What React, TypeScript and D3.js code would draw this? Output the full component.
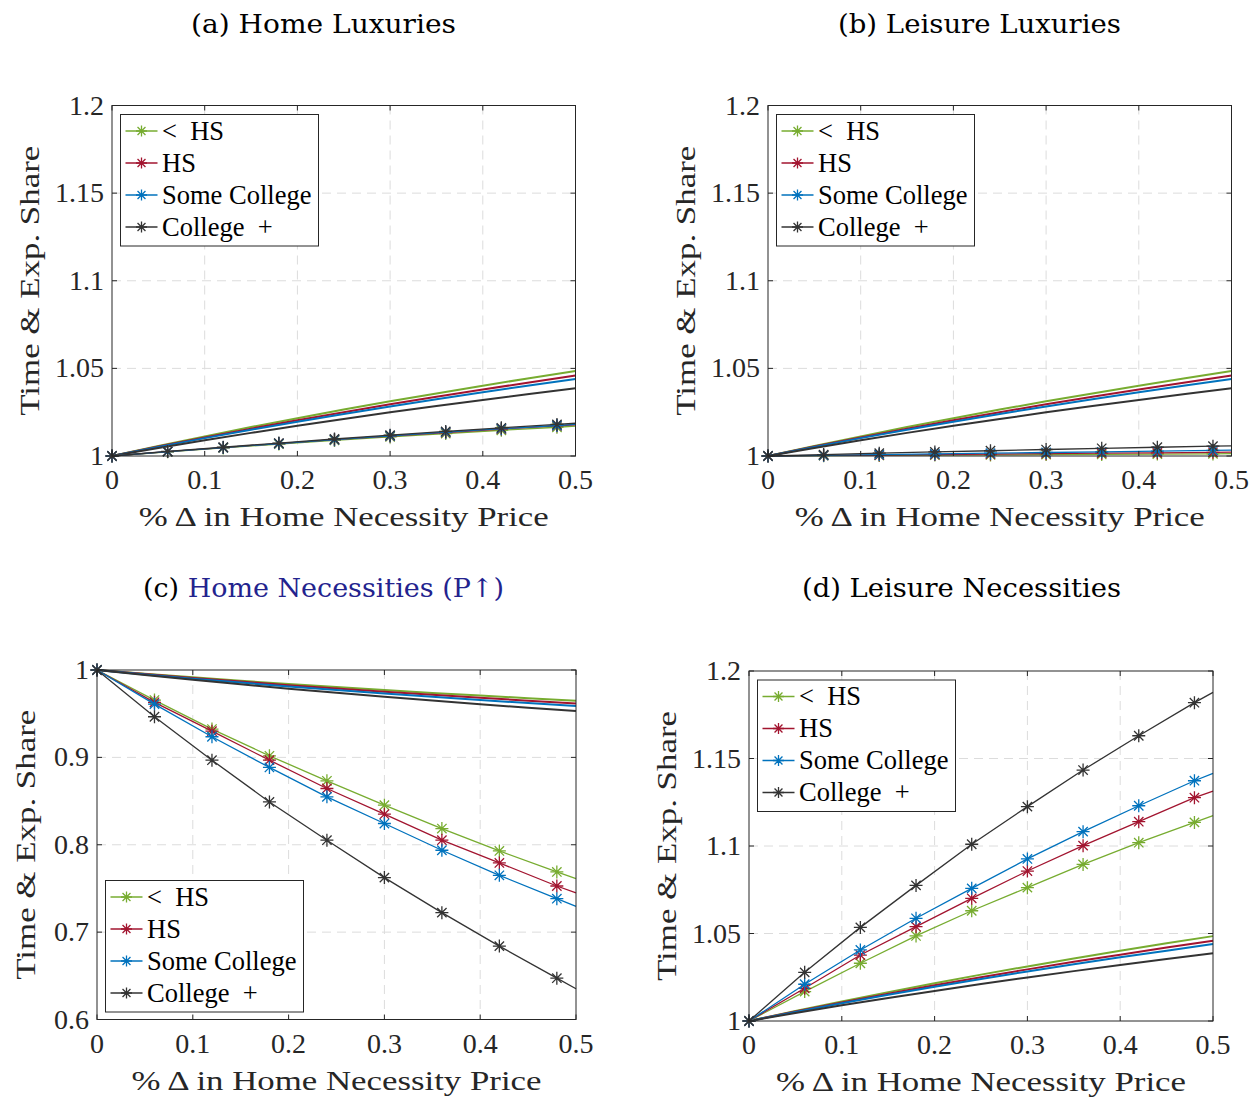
import React from 'react';
import * as d3 from 'd3';

// groups, legend order
const groups = ['< HS', 'HS', 'Some College', 'College +'];
const colors = ['#77AC30', '#A2142F', '#0072BD', '#333333'];

const xTicks = [0, 0.1, 0.2, 0.3, 0.4, 0.5];
const yTicksUp = [1, 1.05, 1.1, 1.15, 1.2];
const yTicksDown = [0.6, 0.7, 0.8, 0.9, 1];

// plain (no marker) lines
const xPlain = [0, 0.05, 0.1, 0.15, 0.2, 0.25, 0.3, 0.35, 0.4, 0.45, 0.5];
const upGreen = [1, 1.0057, 1.0112, 1.0165, 1.0216, 1.0265, 1.0312, 1.0357, 1.0401, 1.0444, 1.0485];
const upRed = [1, 1.0054, 1.0106, 1.0156, 1.0204, 1.025, 1.0295, 1.0338, 1.0379, 1.042, 1.0459];
const upBlue = [1, 1.0052, 1.0102, 1.015, 1.0196, 1.024, 1.0283, 1.0324, 1.0364, 1.0402, 1.044];
const upBlack = [1, 1.0046, 1.009, 1.0132, 1.0172, 1.0211, 1.0249, 1.0285, 1.032, 1.0354, 1.0387];
const downGreen = [1, 0.9957, 0.9916, 0.9877, 0.984, 0.9805, 0.9771, 0.9738, 0.9707, 0.9677, 0.9648];
const downRed = [1, 0.9953, 0.9909, 0.9867, 0.9826, 0.9788, 0.9751, 0.9716, 0.9682, 0.9649, 0.9618];
const downBlue = [1, 0.9949, 0.9901, 0.9856, 0.9812, 0.9771, 0.9731, 0.9693, 0.9657, 0.9621, 0.9587];
const downBlack = [1, 0.9942, 0.9888, 0.9836, 0.9786, 0.9739, 0.9693, 0.965, 0.9609, 0.9568, 0.953];

// marker lines (markers on all but the last point)
const xMarked = [0, 0.06, 0.12, 0.18, 0.24, 0.3, 0.36, 0.42, 0.48, 0.5];
const homeLuxGreen = [1, 1.0024, 1.0046, 1.0068, 1.0089, 1.0109, 1.0128, 1.0147, 1.0164, 1.017];
const homeLuxRed = [1, 1.0025, 1.0048, 1.0071, 1.0093, 1.0114, 1.0134, 1.0154, 1.0172, 1.0178];
const homeLuxBlue = [1, 1.0025, 1.0048, 1.0071, 1.0093, 1.0115, 1.0136, 1.0156, 1.0174, 1.018];
const homeLuxBlack = [1, 1.0026, 1.005, 1.0074, 1.0097, 1.0119, 1.014, 1.0161, 1.018, 1.0187];

const leisLuxGreen = [1, 1.0002, 1.0003, 1.0005, 1.0006, 1.0008, 1.0009, 1.0011, 1.0012, 1.0013];
const leisLuxRed = [1, 1.0003, 1.0005, 1.0008, 1.0011, 1.0013, 1.0016, 1.0018, 1.0021, 1.0022];
const leisLuxBlue = [1, 1.0004, 1.0008, 1.0012, 1.0016, 1.002, 1.0024, 1.0028, 1.0032, 1.0033];
const leisLuxBlack = [1, 1.0008, 1.0016, 1.0023, 1.003, 1.0037, 1.0044, 1.005, 1.0056, 1.0058];

const homeNecGreen = [1, 0.9656, 0.9324, 0.9018, 0.8732, 0.8453, 0.8185, 0.7929, 0.7689, 0.7612];
const homeNecRed = [1, 0.963, 0.93, 0.8968, 0.8644, 0.835, 0.8052, 0.7792, 0.7528, 0.7448];
const homeNecBlue = [1, 0.961, 0.9236, 0.8885, 0.8548, 0.8243, 0.7937, 0.765, 0.7383, 0.7295];
const homeNecBlack = [1, 0.9465, 0.8968, 0.849, 0.8052, 0.7624, 0.7223, 0.684, 0.6473, 0.6352];

const leisNecGreen = [1, 1.0168, 1.033, 1.0486, 1.063, 1.0762, 1.0895, 1.1019, 1.1135, 1.1173];
const leisNecRed = [1, 1.0187, 1.0377, 1.0539, 1.0701, 1.0857, 1.1002, 1.1139, 1.1276, 1.1314];
const leisNecBlue = [1, 1.021, 1.0406, 1.0587, 1.0758, 1.0926, 1.1082, 1.123, 1.1373, 1.1415];
const leisNecBlack = [1, 1.0278, 1.0535, 1.0775, 1.101, 1.1225, 1.1434, 1.163, 1.1819, 1.1878];

const serif = { fontFamily: "'Liberation Serif'" };
const titleFont = { fontFamily: "'DejaVu Serif'" };
const AXIS = '#262626';

const panels = [
  {
    id: 'a', title: '(a) Home Luxuries', blue: '', titleX: 323.5, titleY: 33, titleW: 265,
    x0: 112, x1: 575.5, y0: 105.5, y1: 456, yDomain: [1, 1.2], yTicks: yTicksUp, ylabX: 39,
    plain: [upGreen, upRed, upBlue, upBlack],
    marked: [homeLuxGreen, homeLuxRed, homeLuxBlue, homeLuxBlack], legendBottom: false,
  },
  {
    id: 'b', title: '(b) Leisure Luxuries', blue: '', titleX: 979.5, titleY: 33, titleW: 283,
    x0: 768, x1: 1231.5, y0: 105.5, y1: 456, yDomain: [1, 1.2], yTicks: yTicksUp, ylabX: 695,
    plain: [upGreen, upRed, upBlue, upBlack],
    marked: [leisLuxGreen, leisLuxRed, leisLuxBlue, leisLuxBlack], legendBottom: false,
  },
  {
    id: 'c', title: '(c) ', blue: 'Home Necessities (P\u2191)', titleX: 323.5, titleY: 597, titleW: 361,
    x0: 97, x1: 576, y0: 670, y1: 1019.5, yDomain: [0.6, 1], yTicks: yTicksDown, ylabX: 35,
    plain: [downGreen, downRed, downBlue, downBlack],
    marked: [homeNecGreen, homeNecRed, homeNecBlue, homeNecBlack], legendBottom: true,
  },
  {
    id: 'd', title: '(d) Leisure Necessities', blue: '', titleX: 961.5, titleY: 597, titleW: 319,
    x0: 749, x1: 1213, y0: 671, y1: 1021, yDomain: [1, 1.2], yTicks: yTicksUp, ylabX: 676,
    plain: [upGreen, upRed, upBlue, upBlack],
    marked: [leisNecGreen, leisNecRed, leisNecBlue, leisNecBlack], legendBottom: false,
  },
];

function asterisk(x: number, y: number, s: number) {
  const d = s * 0.72;
  return `M${x - s},${y}L${x + s},${y}M${x},${y - s}L${x},${y + s}` +
    `M${x - d},${y - d}L${x + d},${y + d}M${x - d},${y + d}L${x + d},${y - d}`;
}

function Panel({ p }: { p: typeof panels[number] }) {
  const x = d3.scaleLinear().domain([0, 0.5]).range([p.x0, p.x1]);
  const y = d3.scaleLinear().domain(p.yDomain).range([p.y1, p.y0]);
  const line = d3.line<[number, number]>().x(d => x(d[0])).y(d => y(d[1]));
  const tick = 5;
  const cx = (p.x0 + p.x1) / 2;
  const cy = (p.y0 + p.y1) / 2;

  const lx = p.x0 + 8.5;
  const lw = 198;
  const lh = 131.5;
  const ly = p.legendBottom ? p.y1 - 7.5 - lh : p.y0 + 9;

  return (
    <g>
      {/* grid */}
      {xTicks.slice(1, -1).map(t => (
        <line key={'gx' + t} x1={x(t)} x2={x(t)} y1={p.y0} y2={p.y1}
          stroke="#dcdcdc" strokeWidth={1} strokeDasharray="9,6" />
      ))}
      {p.yTicks.slice(1, -1).map(t => (
        <line key={'gy' + t} y1={y(t)} y2={y(t)} x1={p.x0} x2={p.x1}
          stroke="#dcdcdc" strokeWidth={1} strokeDasharray="9,6" />
      ))}

      {/* plain lines */}
      {p.plain.map((vals, i) => (
        <path key={'pl' + i} d={line(xPlain.map((v, j) => [v, vals[j]]))!}
          fill="none" stroke={colors[i]} strokeWidth={2} />
      ))}
      {/* marker lines */}
      {p.marked.map((vals, i) => (
        <g key={'mk' + i}>
          <path d={line(xMarked.map((v, j) => [v, vals[j]]))!}
            fill="none" stroke={colors[i]} strokeWidth={1.3} />
          <path d={xMarked.slice(0, -1).map((v, j) => asterisk(x(v), y(vals[j]), 6.5)).join('')}
            fill="none" stroke={colors[i]} strokeWidth={1.3} />
        </g>
      ))}

      {/* axes box + ticks */}
      <rect x={p.x0} y={p.y0} width={p.x1 - p.x0} height={p.y1 - p.y0}
        fill="none" stroke={AXIS} strokeWidth={1} />
      {xTicks.map(t => (
        <g key={'tx' + t}>
          <line x1={x(t)} x2={x(t)} y1={p.y1} y2={p.y1 - tick} stroke={AXIS} />
          <line x1={x(t)} x2={x(t)} y1={p.y0} y2={p.y0 + tick} stroke={AXIS} />
          <text x={x(t)} y={p.y1 + 33} textAnchor="middle" style={serif}
            fontSize={28} fill={AXIS}>{d3.format('~g')(t)}</text>
        </g>
      ))}
      {p.yTicks.map(t => (
        <g key={'ty' + t}>
          <line y1={y(t)} y2={y(t)} x1={p.x0} x2={p.x0 + tick} stroke={AXIS} />
          <line y1={y(t)} y2={y(t)} x1={p.x1} x2={p.x1 - tick} stroke={AXIS} />
          <text x={p.x0 - 8} y={y(t) + 9} textAnchor="end" style={serif}
            fontSize={28} fill={AXIS}>{d3.format('~g')(t)}</text>
        </g>
      ))}

      {/* labels */}
      <text x={cx} y={p.y1 + 70} textAnchor="middle" style={serif} fontSize={27}
        fill={AXIS} textLength={410} lengthAdjust="spacingAndGlyphs">% Δ in Home Necessity Price</text>
      <text transform={`translate(${p.ylabX},${cy}) rotate(-90)`} textAnchor="middle"
        style={serif} fontSize={27} fill={AXIS} textLength={270}
        lengthAdjust="spacingAndGlyphs">Time &amp; Exp. Share</text>
      <text x={p.titleX} y={p.titleY} textAnchor="middle" style={titleFont}
        fontSize={26} fill="#000" textLength={p.titleW} lengthAdjust="spacingAndGlyphs">
        {p.title}{p.blue && <tspan fill="#23238e">{p.blue}</tspan>}
      </text>

      {/* legend */}
      <rect x={lx} y={ly} width={lw} height={lh} fill="#fff" stroke={AXIS} strokeWidth={1} />
      {groups.map((g, i) => {
        const ry = ly + 16.5 + i * 32;
        return (
          <g key={'lg' + i}>
            <line x1={lx + 5} x2={lx + 37} y1={ry} y2={ry} stroke={colors[i]} strokeWidth={1.3} />
            <path d={asterisk(lx + 21, ry, 5.5)} stroke={colors[i]} strokeWidth={1.3} fill="none" />
            <text x={lx + 41.5} y={ry + 8.5} style={serif} fontSize={26.5} fill="#000">
              {g === '< HS' ? '<\u00a0 HS' : g === 'College +' ? 'College \u00a0+' : g}
            </text>
          </g>
        );
      })}
    </g>
  );
}

export default function App() {
  return (
    <svg width={1256} height={1099} style={{ position: 'absolute', left: 0, top: 0, background: '#fff' }}>
      <rect width={1256} height={1099} fill="#fff" />
      {panels.map(p => <Panel key={p.id} p={p} />)}
    </svg>
  );
}
